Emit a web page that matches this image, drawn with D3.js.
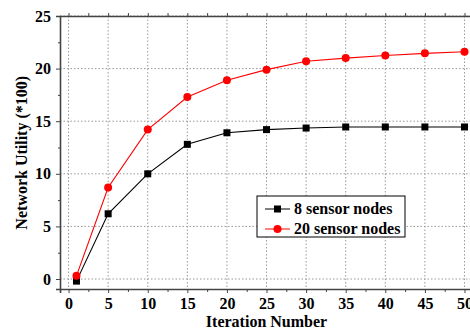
<!DOCTYPE html>
<html>
<head>
<meta charset="UTF-8">
<script src="https://d3js.org/d3.v7.min.js"></script>
<style>
  body { margin: 0; background: #fff; }
</style>
</head>
<body>
<svg width="470" height="329"></svg>
<script>
// data
var iterations = [1, 5, 10, 15, 20, 25, 30, 35, 40, 45, 50];
var nodes8  = [-0.2, 6.2, 10.0, 12.8, 13.9, 14.2, 14.35, 14.45, 14.45, 14.45, 14.45];
var nodes20 = [0.3, 8.7, 14.2, 17.3, 18.9, 19.9, 20.7, 21.0, 21.25, 21.45, 21.6];
var seriesNames = ["8 sensor nodes", "20 sensor nodes"];
var xTicks = [0, 5, 10, 15, 20, 25, 30, 35, 40, 45, 50];
var yTicks = [0, 5, 10, 15, 20, 25];

var FONT = "'Liberation Serif', 'Times New Roman', serif";
var svg = d3.select("svg");
var plotL = 60, plotT = 16, plotB = 289, plotR = 474;

var x = d3.scaleLinear().domain([-1.08, 51.2]).range([plotL, plotR]);
var y = d3.scaleLinear().domain([-0.95, 25]).range([plotB, plotT]);

var g = svg.append("g");

// grid
g.selectAll(".gx").data(xTicks).enter().append("line")
  .attr("x1", d => x(d)).attr("x2", d => x(d))
  .attr("y1", plotT).attr("y2", plotB)
  .attr("stroke", "#999").attr("stroke-width", 1).attr("stroke-dasharray", "1.5,2");
g.selectAll(".gy").data(yTicks).enter().append("line")
  .attr("x1", plotL).attr("x2", plotR)
  .attr("y1", d => y(d)).attr("y2", d => y(d))
  .attr("stroke", "#999").attr("stroke-width", 1).attr("stroke-dasharray", "1.5,2");

// axes
var xMinor = d3.range(2.5, 51, 5);
var yMinor = d3.range(2.5, 25, 5);

var xAxis = svg.append("g").attr("transform", "translate(0," + plotB + ")")
  .call(d3.axisBottom(x).tickValues(xTicks).tickSize(4).tickPadding(5).tickFormat(d3.format("d")));
svg.append("g").attr("transform", "translate(0," + plotB + ")")
  .call(d3.axisBottom(x).tickValues(xMinor).tickSize(3).tickFormat(""))
  .select(".domain").remove();

var yAxis = svg.append("g").attr("transform", "translate(" + plotL + ",0)")
  .call(d3.axisLeft(y).tickValues(yTicks).tickSize(4).tickPadding(5).tickFormat(d3.format("d")));
svg.append("g").attr("transform", "translate(" + plotL + ",0)")
  .call(d3.axisLeft(y).tickValues(yMinor).tickSize(2).tickFormat(""))
  .select(".domain").remove();

// top frame with inward ticks
svg.append("g").attr("transform", "translate(0," + plotT + ")")
  .call(d3.axisBottom(x).tickValues(xTicks.concat(xMinor)).tickSizeInner(-3).tickSizeOuter(0).tickFormat(""));

svg.selectAll(".domain").attr("stroke", "#444").attr("stroke-width", 1.6);
svg.selectAll(".tick line").attr("stroke", "#444");

// lines
var line = d3.line().x((d, i) => x(iterations[i])).y(d => y(d));
svg.append("path").datum(nodes8).attr("d", line)
  .attr("fill", "none").attr("stroke", "#000").attr("stroke-width", 1.1);
svg.append("path").datum(nodes20).attr("d", line)
  .attr("fill", "none").attr("stroke", "#ff0000").attr("stroke-width", 1.1);

svg.selectAll(".sq").data(nodes8).enter().append("rect")
  .attr("x", (d, i) => x(iterations[i]) - 3.5).attr("y", d => y(d) - 3.5)
  .attr("width", 7).attr("height", 7).attr("fill", "#000");
svg.selectAll(".ci").data(nodes20).enter().append("circle")
  .attr("cx", (d, i) => x(iterations[i])).attr("cy", d => y(d))
  .attr("r", 4).attr("fill", "#ff0000");

// axis titles
svg.append("text").attr("x", x(25)).attr("y", 327)
  .attr("text-anchor", "middle").text("Iteration Number");
svg.append("text").attr("transform", "translate(27," + y(12) + ") rotate(-90)")
  .attr("text-anchor", "middle").text("Network Utility (*100)");

// legend
var lg = svg.append("g").attr("transform", "translate(257,196)");
lg.append("rect").attr("width", 148).attr("height", 41)
  .attr("fill", "#fff").attr("stroke", "#000").attr("stroke-width", 1);
var colors = ["#000", "#ff0000"];
seriesNames.forEach(function(name, i) {
  var yy = 13 + i * 20;
  lg.append("line").attr("x1", 8).attr("x2", 33).attr("y1", yy).attr("y2", yy)
    .attr("stroke", colors[i]).attr("stroke-width", 1);
  if (i == 0) {
    lg.append("rect").attr("x", 17).attr("y", yy - 3.5).attr("width", 7).attr("height", 7).attr("fill", "#000");
  } else {
    lg.append("circle").attr("cx", 20.5).attr("cy", yy).attr("r", 4).attr("fill", "#ff0000");
  }
  lg.append("text").attr("x", 37).attr("y", yy + 5).text(name);
});

// all texts: bold serif
svg.selectAll("text")
  .attr("font-family", FONT).attr("font-weight", "bold")
  .attr("font-size", "16px").attr("fill", "#000");
</script>
</body>
</html>
